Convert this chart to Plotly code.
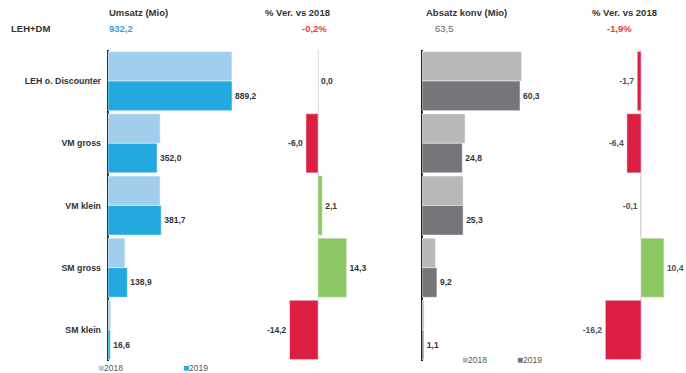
import plotly.graph_objects as go

W, H = 686, 373

categories = ["LEH o. Discounter", "VM gross", "VM klein", "SM gross", "SM klein"]
umsatz_2018 = [889.5, 374.5, 373.9, 121.5, 19.3]
umsatz_2019 = [889.2, 352.0, 381.7, 138.9, 16.6]
umsatz_pct = [0.0, -6.0, 2.1, 14.3, -14.2]
absatz_2018 = [61.3, 26.5, 25.3, 8.3, 1.3]
absatz_2019 = [60.3, 24.8, 25.3, 9.2, 1.1]
absatz_pct = [-1.7, -6.4, -0.1, 10.4, -16.2]
total_label = "LEH+DM"
umsatz_total = 932.2
umsatz_total_pct = -0.2
absatz_total = 63.5
absatz_total_pct = -1.9
years = ["2018", "2019"]

FONT = "Liberation Sans, Arial, sans-serif"
C_B18, C_B19 = "#A2CEEE", "#23A8E0"
C_G18, C_G19 = "#B8B8BB", "#76767A"
C_RED, C_GREEN = "#DC1E42", "#8BC862"
TXT = "#333333"
LBL = 8.5


def fmt(v):
    return f"{v:.1f}".replace(".", ",")


def px(x):
    return x / W


def py(y):
    return 1 - y / H


fig = go.Figure()

# Umsatz
fig.add_trace(go.Bar(y=categories, x=umsatz_2018, orientation="h", name=years[0],
                     marker=dict(color=C_B18, line=dict(color="white", width=0.5)),
                     xaxis="x", yaxis="y", showlegend=False, hoverinfo="skip"))
fig.add_trace(go.Bar(y=categories, x=umsatz_2019, orientation="h", name=years[1],
                     marker=dict(color=C_B19, line=dict(color="white", width=0.5)),
                     text=[fmt(v) for v in umsatz_2019], textposition="outside",
                     textfont=dict(size=LBL, color=TXT, family=FONT, weight="bold"),
                     cliponaxis=False,
                     xaxis="x", yaxis="y", showlegend=False, hoverinfo="skip"))
# % Umsatz
fig.add_trace(go.Bar(y=categories, x=umsatz_pct, orientation="h",
                     marker=dict(color=[C_GREEN if v >= 0 else C_RED for v in umsatz_pct]),
                     text=[fmt(v) for v in umsatz_pct], textposition="outside",
                     textfont=dict(size=LBL, color=TXT, family=FONT, weight="bold"),
                     cliponaxis=False,
                     xaxis="x2", yaxis="y2", showlegend=False, hoverinfo="skip"))
# Absatz
fig.add_trace(go.Bar(y=categories, x=absatz_2018, orientation="h", name=years[0],
                     marker=dict(color=C_G18, line=dict(color="white", width=0.5)),
                     xaxis="x3", yaxis="y3", showlegend=False, hoverinfo="skip"))
fig.add_trace(go.Bar(y=categories, x=absatz_2019, orientation="h", name=years[1],
                     marker=dict(color=C_G19, line=dict(color="white", width=0.5)),
                     text=[fmt(v) for v in absatz_2019], textposition="outside",
                     textfont=dict(size=LBL, color=TXT, family=FONT, weight="bold"),
                     cliponaxis=False,
                     xaxis="x3", yaxis="y3", showlegend=False, hoverinfo="skip"))
# % Absatz
fig.add_trace(go.Bar(y=categories, x=absatz_pct, orientation="h",
                     marker=dict(color=[C_GREEN if v >= 0 else C_RED for v in absatz_pct]),
                     text=[fmt(v) for v in absatz_pct], textposition="outside",
                     textfont=dict(size=LBL, color="#505050", family=FONT, weight="bold"),
                     cliponaxis=False,
                     xaxis="x4", yaxis="y4", showlegend=False, hoverinfo="skip"))

ydom = [py(361), py(50)]

def xax(d0, d1, rng, zcol, zw, anchor):
    return dict(domain=[px(d0), px(d1)], range=rng, showgrid=False, showticklabels=False,
                ticks="", zeroline=True, zerolinecolor=zcol, zerolinewidth=zw,
                showline=False, anchor=anchor, fixedrange=True)

def yax(anchor, labels):
    return dict(domain=ydom, autorange="reversed", showgrid=False, ticks="",
                showticklabels=labels, anchor=anchor, matches=None if anchor == "x" else "y",
                tickfont=dict(size=8.8, color=TXT, family=FONT, weight="bold"),
                ticklabelstandoff=6, fixedrange=True)

s1 = 124 / 889.2
s3 = 98 / 60.3
fig.update_layout(
    width=W, height=H, margin=dict(l=0, r=0, t=0, b=0),
    plot_bgcolor="white", paper_bgcolor="white",
    barmode="group", bargap=0.05, bargroupgap=0.0,
    font=dict(family=FONT, color=TXT),
    xaxis=xax(108, 258, [0, 150 / s1], "#333333", 2, "y"),
    xaxis2=xax(262, 380, [-56 / 2.0, 62 / 2.0], "#D9D9D2", 1, "y2"),
    xaxis3=xax(422, 562, [0, 140 / s3], "#222222", 2, "y3"),
    xaxis4=xax(584, 686, [-57 / 2.2, 45 / 2.2], "#E3E3E3", 1.5, "y4"),
    yaxis=yax("x", True),
    yaxis2=yax("x2", False),
    yaxis3=yax("x3", False),
    yaxis4=yax("x4", False),
)

def ann(x, y, text, size=9.5, color=TXT, bold=True, xanchor="left"):
    fig.add_annotation(x=px(x), y=py(y), xref="paper", yref="paper", text=text,
                       showarrow=False, xanchor=xanchor, yanchor="middle",
                       font=dict(size=size, color=color, family=FONT,
                                 weight="bold" if bold else "normal"))

ann(107, 12, "Umsatz (Mio)")
ann(107, 28, fmt(umsatz_total), color="#29A9E1")
ann(9, 28, total_label)
ann(297, 12, "% Ver. vs 2018", xanchor="center")
ann(329, 28, fmt(umsatz_total_pct) + "%", color="#EE3B3B", xanchor="right")
ann(424, 12, "Absatz konv (Mio)")
ann(433, 28, fmt(absatz_total), color="#666666", bold=False)
ann(624, 12, "% Ver. vs 2018", xanchor="center")
ann(634, 28, fmt(absatz_total_pct) + "%", color="#EE3B3B", xanchor="right")

# legends
def sq(c):
    return f'<span style="color:{c};font-size:10px">■</span>'

ann(96, 367, sq(C_B18) + years[0], size=8.5, color="#555555", bold=False)
ann(181, 367, sq(C_B19) + years[1], size=8.5, color="#555555", bold=False)
ann(460, 359, sq(C_G18) + years[0], size=8.5, color="#555555", bold=False)
ann(515, 359, sq(C_G19) + years[1], size=8.5, color="#555555", bold=False)

fig.write_html("out.html")
